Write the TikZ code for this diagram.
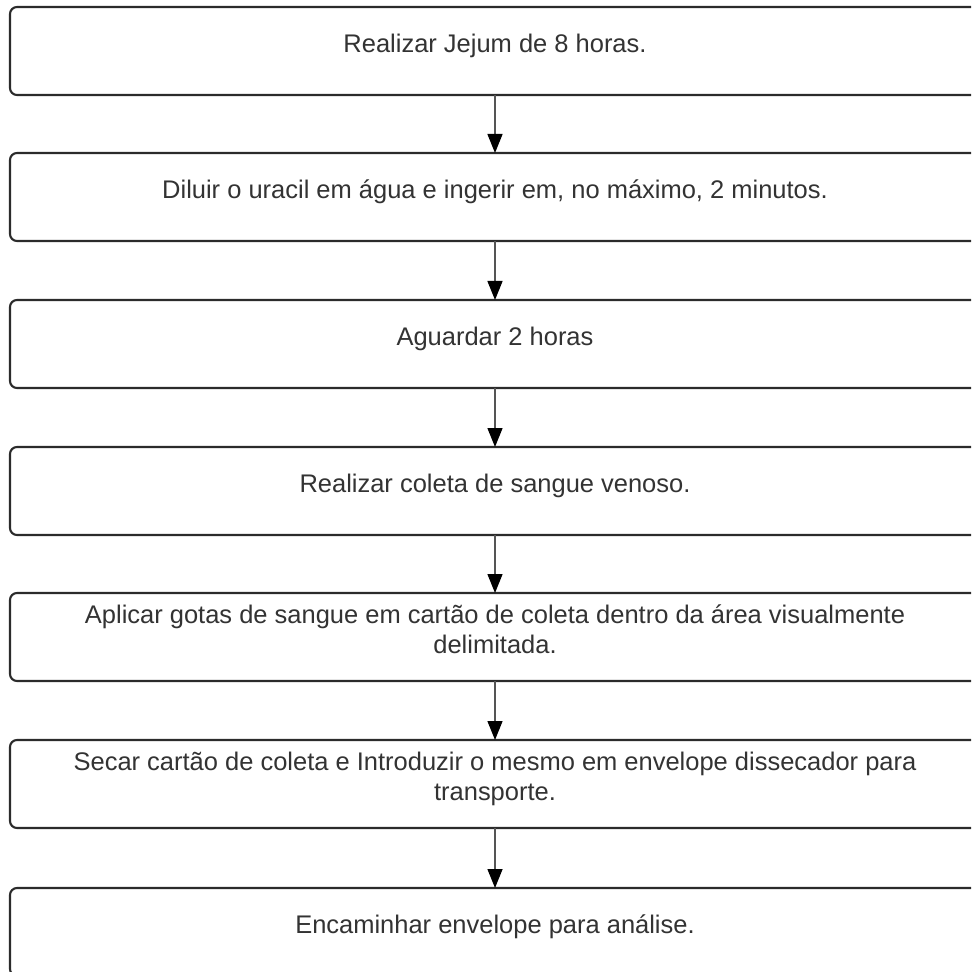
\documentclass[tikz,border=0pt]{standalone}
\usepackage{fontspec}
\setmainfont{Liberation Sans}
\usepackage{tikz}
\usetikzlibrary{arrows.meta}
\definecolor{boxline}{HTML}{2B2B2B}
\definecolor{steptext}{HTML}{333333}
\definecolor{arrowline}{HTML}{555555}
\tikzstyle{stepbox}=[draw=boxline, line width=1.2pt, rounded corners=4pt, fill=white, minimum width=19.4cm, minimum height=1.76cm, inner sep=0pt, outer sep=0pt, align=center, text=steptext, text depth=0.32cm, font=\fontsize{14.5}{17}\selectfont]
\tikzstyle{stepflow}=[draw=arrowline, line width=0.8pt, -{Triangle[length=0.38cm,width=0.3cm,color=black]}]
\newcommand{\stepNbox}[3]{
	\node[stepbox] (#1) at #2 {#3};
}

\begin{document}
\begin{tikzpicture}
	\useasboundingbox (0,0) rectangle (19.42,-19.44);
	\clip (0,0) rectangle (19.42,-19.44);
	\stepNbox{jejum}{(9.9,-1.02)}{Realizar Jejum de 8 horas.}
	\stepNbox{uracil}{(9.9,-3.94)}{Diluir o uracil em água e ingerir em, no máximo, 2 minutos.}
	\stepNbox{aguardar}{(9.9,-6.88)}{Aguardar 2 horas}
	\stepNbox{coleta}{(9.9,-9.82)}{Realizar coleta de sangue venoso.}
	\stepNbox{gotas}{(9.9,-12.74)}{Aplicar gotas de sangue em cartão de coleta dentro da área visualmente\\delimitada.}
	\stepNbox{secar}{(9.9,-15.68)}{Secar cartão de coleta e Introduzir o mesmo em envelope dissecador para\\transporte.}
	\stepNbox{envelope}{(9.9,-18.64)}{Encaminhar envelope para análise.}
	\draw[stepflow] (jejum) -- (uracil);
	\draw[stepflow] (uracil) -- (aguardar);
	\draw[stepflow] (aguardar) -- (coleta);
	\draw[stepflow] (coleta) -- (gotas);
	\draw[stepflow] (gotas) -- (secar);
	\draw[stepflow] (secar) -- (envelope);
\end{tikzpicture}
\end{document}
